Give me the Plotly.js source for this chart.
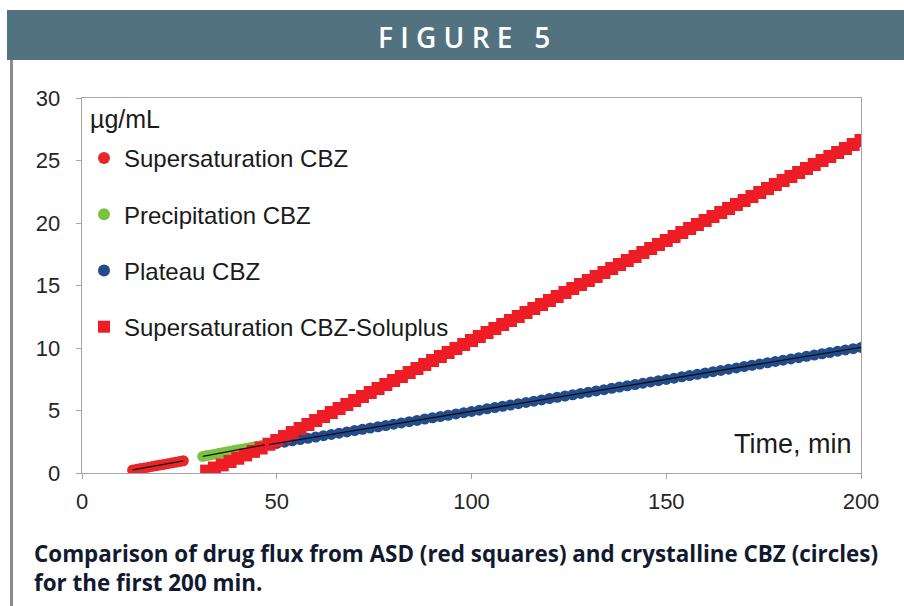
<!DOCTYPE html>
<html>
<head>
<meta charset="utf-8">
<script src="https://cdn.plot.ly/plotly-3.0.1.min.js"></script>
<style>
  html, body { margin: 0; padding: 0; background: #ffffff; }
  #chart { width: 904px; height: 606px; }
</style>
</head>
<body>
<div id="chart"></div>
<script>
// Supersaturation CBZ (red circles)
const satTime = [13, 14, 15, 16, 17, 18, 19, 20, 21, 22, 23, 24, 25, 26];
const satConc = [0.25, 0.31, 0.36, 0.41, 0.47, 0.53, 0.58, 0.64, 0.69, 0.75, 0.81, 0.86, 0.92, 0.98];

// Precipitation CBZ (green circles)
const precTime = [31, 32, 33, 34, 35, 36, 37, 38, 39, 40, 41, 42, 43, 44, 45, 46, 47];
const precConc = [1.33, 1.40, 1.45, 1.51, 1.57, 1.63, 1.69, 1.74, 1.80, 1.86, 1.91, 1.97, 2.03, 2.08, 2.14, 2.20, 2.26];

// Plateau CBZ (blue circles)
const platTime = [48, 50, 52, 54, 56, 58, 60, 62, 64, 66, 68, 70, 72, 74, 76, 78, 80, 82, 84, 86,
  88, 90, 92, 94, 96, 98, 100, 102, 104, 106, 108, 110, 112, 114, 116, 118, 120, 122, 124, 126,
  128, 130, 132, 134, 136, 138, 140, 142, 144, 146, 148, 150, 152, 154, 156, 158, 160, 162, 164, 166,
  168, 170, 172, 174, 176, 178, 180, 182, 184, 186, 188, 190, 192, 194, 196, 198, 200];
const platConc = [2.27, 2.37, 2.47, 2.58, 2.68, 2.78, 2.88, 2.99, 3.09, 3.19, 3.29, 3.40, 3.50, 3.60, 3.70, 3.80, 3.91, 4.01, 4.11, 4.21,
  4.32, 4.42, 4.52, 4.62, 4.73, 4.83, 4.93, 5.03, 5.14, 5.24, 5.34, 5.44, 5.55, 5.65, 5.75, 5.85, 5.96, 6.06, 6.16, 6.26,
  6.37, 6.47, 6.57, 6.67, 6.78, 6.88, 6.98, 7.08, 7.19, 7.29, 7.39, 7.49, 7.59, 7.70, 7.80, 7.90, 8.00, 8.11, 8.21, 8.31,
  8.41, 8.52, 8.62, 8.72, 8.82, 8.93, 9.03, 9.13, 9.23, 9.34, 9.44, 9.54, 9.64, 9.75, 9.85, 9.95, 10.05];

// Supersaturation CBZ-Soluplus (red squares)
const soluTime = [32, 34, 36, 38, 40, 42, 44, 46, 48, 50, 52, 54, 56, 58, 60, 62, 64, 66, 68, 70,
  72, 74, 76, 78, 80, 82, 84, 86, 88, 90, 92, 94, 96, 98, 100, 102, 104, 106, 108, 110,
  112, 114, 116, 118, 120, 122, 124, 126, 128, 130, 132, 134, 136, 138, 140, 142, 144, 146, 148, 150,
  152, 154, 156, 158, 160, 162, 164, 166, 168, 170, 172, 174, 176, 178, 180, 182, 184, 186, 188, 190,
  192, 194, 196, 198, 200];
const soluConc = [0.15, 0.40, 0.65, 0.92, 1.18, 1.45, 1.73, 2.00, 2.30, 2.60, 2.92, 3.24, 3.56, 3.88, 4.20, 4.52, 4.84, 5.16, 5.48, 5.80,
  6.12, 6.44, 6.76, 7.08, 7.40, 7.72, 8.04, 8.36, 8.68, 9.00, 9.32, 9.64, 9.96, 10.28, 10.60, 10.92, 11.24, 11.56, 11.88, 12.20,
  12.52, 12.84, 13.16, 13.48, 13.80, 14.12, 14.44, 14.76, 15.08, 15.40, 15.72, 16.04, 16.36, 16.68, 17.00, 17.32, 17.64, 17.96, 18.28, 18.60,
  18.92, 19.24, 19.56, 19.88, 20.20, 20.52, 20.84, 21.16, 21.48, 21.80, 22.12, 22.44, 22.76, 23.08, 23.40, 23.72, 24.04, 24.36, 24.68, 25.00,
  25.32, 25.64, 25.96, 26.28, 26.60];

const xTicks = [0, 50, 100, 150, 200];
const yTicks = [0, 5, 10, 15, 20, 25, 30];

// plot area in pixels, used to place the decorations around it
const L = 82, R = 861, T = 98, B = 473;
const px = v => (v - L) / (R - L);
const py = v => (B - v) / (B - T);

const ARIAL = 'Liberation Sans, Arial, sans-serif';

// linear trend line through a series (least squares)
function trend(xs, ys) {
  const n = xs.length;
  const mx = xs.reduce((a, b) => a + b, 0) / n;
  const my = ys.reduce((a, b) => a + b, 0) / n;
  let sxy = 0, sxx = 0;
  for (let i = 0; i < n; i++) {
    sxy += (xs[i] - mx) * (ys[i] - my);
    sxx += (xs[i] - mx) * (xs[i] - mx);
  }
  const k = sxy / sxx, b = my - k * mx;
  const x0 = xs[0], x1 = xs[n - 1];
  return {
    x: [x0, x1], y: [k * x0 + b, k * x1 + b],
    mode: 'lines', type: 'scatter', showlegend: false, hoverinfo: 'skip',
    line: { color: '#111111', width: 1.3 }
  };
}

const data = [
  { x: satTime, y: satConc, name: 'Supersaturation CBZ', mode: 'markers', type: 'scatter', legendgroup: 'a',
    marker: { symbol: 'circle', size: 11, color: '#e8262a' } },
  { x: precTime, y: precConc, name: 'Precipitation CBZ', mode: 'markers', type: 'scatter', legendgroup: 'b',
    marker: { symbol: 'circle', size: 11, color: '#7cc242' } },
  { x: platTime, y: platConc, name: 'Plateau CBZ', mode: 'markers', type: 'scatter', legendgroup: 'c',
    marker: { symbol: 'circle', size: 11, color: '#234c8c' } },
  { x: soluTime, y: soluConc, name: 'Supersaturation CBZ-Soluplus', mode: 'markers', type: 'scatter', legendgroup: 'd',
    marker: { symbol: 'square', size: 13, color: '#ee1c24' } },
  trend(satTime, satConc),
  trend(precTime, precConc),
  trend(platTime, platConc)
];

const axisCommon = {
  showgrid: false, zeroline: false,
  showline: true, linecolor: '#aaa3a3', linewidth: 1.3, mirror: true,
  ticks: 'outside', ticklen: 5, tickcolor: '#aaa3a3', tickwidth: 1,
  tickfont: { family: ARIAL, size: 22, color: '#262626' }
};

const layout = {
  width: 904, height: 606,
  margin: { l: L, r: 904 - R, t: T, b: 606 - B },
  paper_bgcolor: '#ffffff', plot_bgcolor: '#ffffff',
  showlegend: true,
  legend: {
    x: px(84), y: py(136), xanchor: 'left', yanchor: 'top',
    bgcolor: 'rgba(0,0,0,0)', borderwidth: 0,
    tracegroupgap: 22, itemwidth: 30, itemsizing: 'constant',
    font: { family: ARIAL, size: 24, color: '#1a1a1a' }
  },
  xaxis: Object.assign({}, axisCommon, { range: [0, 200], tickvals: xTicks, ticklabelstandoff: 3 }),
  yaxis: Object.assign({}, axisCommon, { range: [0, 30], tickvals: yTicks, ticklabelstandoff: 11 }),
  shapes: [
    { type: 'rect', xref: 'paper', yref: 'paper', x0: px(7), x1: px(904), y0: py(60), y1: py(10),
      fillcolor: '#53727f', line: { width: 0 }, layer: 'below' },
    { type: 'line', xref: 'paper', yref: 'paper', x0: px(11.5), x1: px(11.5), y0: py(60), y1: py(606),
      line: { color: '#8c8c8c', width: 3 } }
  ],
  annotations: [
    { text: 'F I G U R E   5', xref: 'paper', yref: 'paper', x: px(464), y: py(37),
      xanchor: 'center', yanchor: 'middle', showarrow: false,
      font: { family: 'Open Sans, sans-serif', size: 28, color: '#ffffff', weight: 600 } },
    { text: 'µg/mL', xref: 'paper', yref: 'paper', x: px(88), y: py(119),
      xanchor: 'left', yanchor: 'middle', showarrow: false,
      font: { family: ARIAL, size: 25, color: '#1a1a1a' } },
    { text: 'Time, min', xref: 'paper', yref: 'paper', x: px(854), y: py(444),
      xanchor: 'right', yanchor: 'middle', showarrow: false,
      font: { family: ARIAL, size: 27, color: '#1a1a1a' } },
    { text: '<b>Comparison of drug flux from ASD (red squares) and crystalline CBZ (circles)<br>for the first 200 min.</b>',
      xref: 'paper', yref: 'paper', x: px(32), y: py(568), xanchor: 'left', yanchor: 'middle', align: 'left',
      showarrow: false,
      font: { family: 'Open Sans, sans-serif', size: 22.4, color: '#111a2e' } }
  ]
};

Plotly.newPlot('chart', data, layout, { displayModeBar: false, staticPlot: true });
</script>
</body>
</html>
